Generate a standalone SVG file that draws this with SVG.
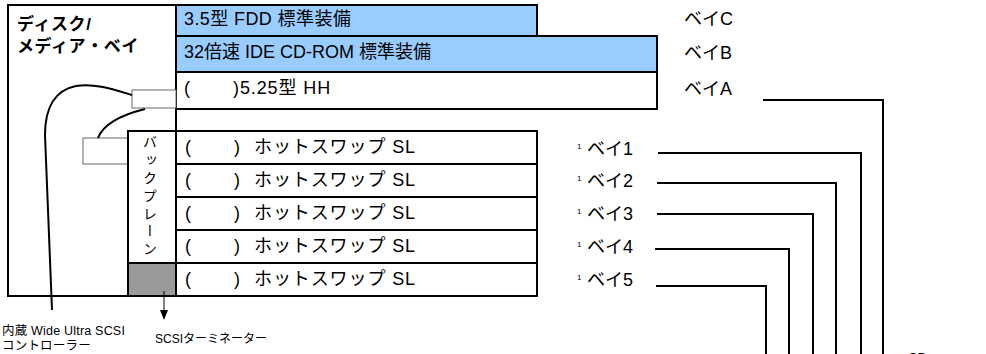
<svg xmlns="http://www.w3.org/2000/svg" width="986" height="354" viewBox="0 0 986 354">
<defs>
<style>
.box{fill:#fff;stroke:#000;stroke-width:2}
.blue{fill:#99ccff;stroke:#000;stroke-width:2}
.gray{fill:#999;stroke:#000;stroke-width:2}
.conn{fill:#fff;stroke:#666;stroke-width:1}
.t{font-family:"Liberation Sans","Noto Sans CJK JP",sans-serif;font-size:18px;fill:#000}
.b{font-weight:bold;font-size:17px;letter-spacing:0.6px}
.s{font-size:12.5px;letter-spacing:0.2px}
.sup{font-size:8px}
.ls{letter-spacing:0.9px}
.lead{fill:none;stroke:#000;stroke-width:2}
.cable{fill:none;stroke:#000;stroke-width:2}
.thin{fill:none;stroke:#000;stroke-width:1}
</style>
<marker id="arr" viewBox="0 0 10 8" refX="0" refY="4" markerWidth="10" markerHeight="8" markerUnits="userSpaceOnUse" orient="auto">
<path d="M0,0 L10,4 L0,8 z" fill="#000"/>
</marker>
</defs>

<g id="panel">
<rect class="box" x="8" y="5" width="168" height="291"/>
<text class="t b" x="17" y="30">ディスク/</text>
<text class="t b" x="17" y="52">メディア・ベイ</text>
</g>

<g id="bay-c">
<rect class="blue" x="176" y="5" width="361" height="31"/>
<text class="t" x="184" y="25" style="letter-spacing:0.4px">3.5型 FDD 標準装備</text>
</g>
<g id="bay-b">
<rect class="blue" x="176" y="36" width="481" height="36"/>
<text class="t" x="184" y="58">32倍速 IDE CD-ROM 標準装備</text>
</g>
<g id="bay-a">
<rect class="box" x="176" y="72" width="481" height="37"/>
<text class="t"><tspan x="184" y="94">(</tspan><tspan class="ls" x="233" y="94">)5.25型 HH</tspan></text>
</g>

<g id="connector-upper"><rect class="conn" x="132" y="90" width="44" height="18"/></g>
<g id="connector-lower"><rect class="conn" x="83" y="138" width="45" height="26"/></g>

<g id="backplane">
<rect class="box" x="128" y="131" width="48" height="132"/>
<text class="t" x="149" y="135" style="writing-mode:vertical-rl;font-size:14px;letter-spacing:3.8px">バックプレーン</text>
</g>
<g id="terminator"><rect class="gray" x="128" y="263" width="48" height="33"/></g>

<g id="hs1"><rect class="box" x="176" y="131" width="361" height="33"/>
<text class="t"><tspan x="185" y="153">(</tspan><tspan x="234" y="153">)</tspan><tspan class="ls" x="254" y="153">ホットスワップ SL</tspan></text></g>
<g id="hs2"><rect class="box" x="176" y="164" width="361" height="33"/>
<text class="t"><tspan x="185" y="186">(</tspan><tspan x="234" y="186">)</tspan><tspan class="ls" x="254" y="186">ホットスワップ SL</tspan></text></g>
<g id="hs3"><rect class="box" x="176" y="197" width="361" height="33"/>
<text class="t"><tspan x="185" y="219">(</tspan><tspan x="234" y="219">)</tspan><tspan class="ls" x="254" y="219">ホットスワップ SL</tspan></text></g>
<g id="hs4"><rect class="box" x="176" y="230" width="361" height="33"/>
<text class="t"><tspan x="185" y="252">(</tspan><tspan x="234" y="252">)</tspan><tspan class="ls" x="254" y="252">ホットスワップ SL</tspan></text></g>
<g id="hs5"><rect class="box" x="176" y="263" width="361" height="33"/>
<text class="t"><tspan x="185" y="285">(</tspan><tspan x="234" y="285">)</tspan><tspan class="ls" x="254" y="285">ホットスワップ SL</tspan></text></g>

<g id="labels">
<text class="t" x="684" y="25">ベイC</text>
<text class="t" x="684" y="59">ベイB</text>
<text class="t" x="684" y="95">ベイA</text>
<text class="t"><tspan class="sup" x="577" y="149">1</tspan><tspan x="587" y="155">ベイ1</tspan></text>
<text class="t"><tspan class="sup" x="577" y="181">1</tspan><tspan x="587" y="187">ベイ2</tspan></text>
<text class="t"><tspan class="sup" x="577" y="214">1</tspan><tspan x="587" y="220">ベイ3</tspan></text>
<text class="t"><tspan class="sup" x="577" y="247">1</tspan><tspan x="587" y="253">ベイ4</tspan></text>
<text class="t"><tspan class="sup" x="577" y="280">1</tspan><tspan x="587" y="286">ベイ5</tspan></text>
<text class="t s" x="2" y="335">内蔵 Wide Ultra SCSI</text>
<text class="t s" x="2" y="350">コントローラー</text>
<text class="t" style="font-size:12px" x="155" y="343">SCSIターミネーター</text>
<text class="t" style="font-size:13px" x="908" y="362">CD</text>
</g>

<g id="connectors">
<path class="cable" d="M132,95 C112,89 94,83 76,86 C55,90 45,108 45,135 L52,310"/>
<path class="cable" d="M145,109 C125,114 104,122 98,138"/>
<path class="thin" d="M164,291 L164,310" marker-end="url(#arr)"/>
<path class="lead" d="M763,100 H883 V354"/>
<path class="lead" d="M658,153 H861 V354"/>
<path class="lead" d="M657,183 H836 V354"/>
<path class="lead" d="M657,214 H813 V354"/>
<path class="lead" d="M655,249 H789 V354"/>
<path class="lead" d="M656,286 H766 V354"/>
</g>
</svg>
